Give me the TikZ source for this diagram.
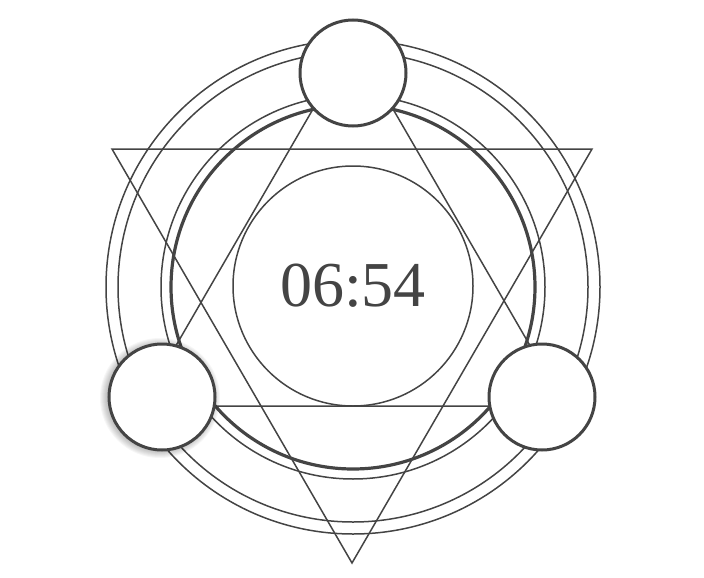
\documentclass[tikz,border=0pt]{standalone}
\usepackage{fontspec}
\setmainfont{Liberation Serif}
\definecolor{ink}{RGB}{68,68,68}
\tikzset{
  ring/.style={draw=ink,line width=1.5pt},
  bigring/.style={draw=ink,line width=3.2pt},
  moon/.style={circle,draw=ink,fill=white,line width=3pt,minimum size=106pt,inner sep=0pt},
}
\begin{document}
\begin{tikzpicture}[x=1pt,y=-1pt]
\useasboundingbox (0,0) rectangle (704,578);
\coordinate (c) at (353,287);
\draw[ring] (c) circle (247pt);
\draw[ring] (c) circle (235pt);
\draw[ring] (c) circle (192pt);
\draw[bigring] (c) circle (182pt);
\draw[ring] (353,286) circle (120pt);
\coordinate (d1) at (112,149);
\coordinate (d2) at (592,149);
\coordinate (d3) at (352,563);
\draw[ring,line join=miter] (d1) -- (d2) -- (d3) -- cycle;
\coordinate (u1) at (353,40);
\coordinate (u2) at (141,406);
\coordinate (u3) at (565,406);
\draw[ring,line join=miter] (u1) -- (u2) -- (u3) -- cycle;
\foreach \i in {1,...,7}
  \fill[black,opacity=0.035] (160,398) circle (53pt+\i pt);
\node[moon] (top) at (353,73) {};
\node[moon] (left) at (162,397) {};
\node[moon] (right) at (542,397) {};
\node[text=ink,font=\fontsize{64}{64}\selectfont] (clock) at (353,286) {06:54};
\end{tikzpicture}
\end{document}
